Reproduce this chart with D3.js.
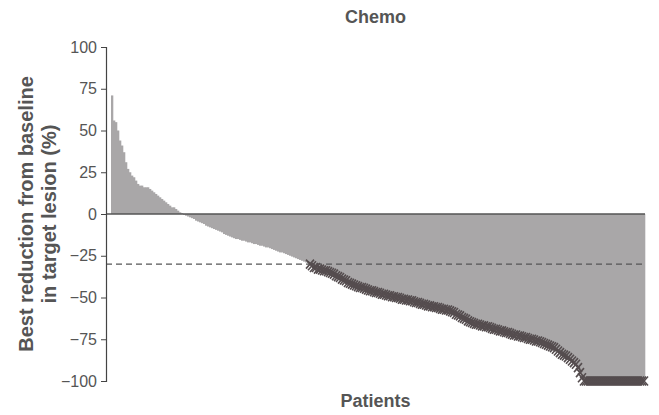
<!DOCTYPE html>
<html>
<head>
<meta charset="utf-8">
<script src="https://cdn.jsdelivr.net/npm/d3@7"></script>
<style>
  body { margin: 0; background: #fff; }
  svg { font-family: "Liberation Sans", Arial, sans-serif; }
</style>
</head>
<body>
<div id="chart"></div>
<script>
// Best % change from baseline per patient, sorted (waterfall)
const values = [
  71, 56, 55, 50, 44, 41, 37, 31, 27, 25, 23, 22, 20, 18, 17, 17, 16, 16, 16, 15,
  14, 13, 12, 11, 10, 9, 8, 7, 6, 5, 4, 4, 3, 2, 1, 0.5,
  -0.5, -1, -1.5, -2, -2.5, -3, -4, -4.5, -5, -5.5, -6, -7, -7.5, -8,
  -8.5, -9, -9.5, -10, -10.5, -11, -12, -12.5, -13, -13.5,
  -14, -14.5, -15, -15, -15.5, -16, -16, -16.5, -17, -17,
  -17.5, -18, -18, -18.5, -19, -19, -19.5, -20, -20, -20.5,
  -21, -21.5, -22, -22.5, -23, -23, -23.5, -24, -24.5, -25,
  -25.5, -26, -26.5, -27, -27.5, -28, -28.5, -29, -29.5, -30,
  -31, -32, -32, -33, -33, -33.5, -34, -34, -34.5, -35,
  -35.5, -36, -37, -37.5, -38, -39, -39.5, -40, -41, -41.5,
  -42, -42.5, -43, -43.5, -44, -44, -44.5, -45, -45.5, -46,
  -46, -46.5, -47, -47, -47.5, -48, -48, -48.5, -49, -49,
  -49.5, -49.5, -50, -50, -50.5, -51, -51, -51.5, -51.5, -52,
  -52, -52.5, -53, -53, -53.5, -54, -54, -54.5, -55, -55,
  -55.5, -55.5, -56, -56, -56.5, -57, -57, -57.5, -57.5, -58,
  -58.5, -59, -60, -60.5, -61, -62, -62.5, -63, -64, -64.5,
  -65, -65.5, -66, -66, -66.5, -67, -67, -67.5, -67.5, -68,
  -68.5, -69, -69, -69.5, -70, -70, -70.5, -71, -71, -71.5,
  -72, -72.5, -72.5, -73, -73, -73.5, -74, -74, -74.5, -75,
  -75, -75.5, -76, -76, -76.5, -77, -77.5, -78, -78.5, -79,
  -79.5, -80, -81, -82, -83, -84, -84.5, -85, -86, -87,
  -88, -89, -90, -92, -95, -98,
  -100, -100, -100, -100, -100, -100, -100, -100, -100, -100,
  -100, -100, -100, -100, -100, -100, -100, -100, -100, -100,
  -100, -100, -100, -100, -100, -100, -100, -100, -100, -100, -100
];
const yTicks = [100, 75, 50, 25, 0, -25, -50, -75, -100];
const responseCutoff = -30;
const title = "Chemo";
const xTitle = "Patients";
const yTitle = ["Best reduction from baseline", "in target lesion (%)"];

const W = 659, H = 415;
const margin = { top: 47, right: 14, bottom: 34, left: 106 };
const width = W - margin.left - margin.right,
  height = H - margin.top - margin.bottom;

const svg = d3.select("#chart").append("svg")
  .attr("width", W).attr("height", H);
const g = svg.append("g")
  .attr("transform", `translate(${margin.left},${margin.top})`);

const x = d3.scaleBand()
  .domain(d3.range(values.length))
  .range([5, width])
  .padding(0);
const y = d3.scaleLinear().domain([-100, 100]).range([height, 0]);

// bars
g.selectAll("rect.bar")
  .data(values)
  .join("rect")
  .attr("class", "bar")
  .attr("x", (d, i) => x(i))
  .attr("width", x.bandwidth() + 0.3)
  .attr("y", d => y(Math.max(0, d)))
  .attr("height", d => Math.abs(y(d) - y(0)))
  .attr("fill", "#a9a7a8");

// zero line
g.append("line")
  .attr("x1", 0).attr("x2", width)
  .attr("y1", y(0)).attr("y2", y(0))
  .attr("stroke", "#555").attr("stroke-width", 1.5);

// -30% threshold
g.append("line")
  .attr("x1", 0).attr("x2", width)
  .attr("y1", y(responseCutoff)).attr("y2", y(responseCutoff))
  .attr("stroke", "#555").attr("stroke-width", 1.3)
  .attr("stroke-dasharray", "6,4");

// cross markers for responders
g.selectAll("path.mark")
  .data(values.map((v, i) => ({ v, i })).filter(d => d.v <= responseCutoff))
  .join("path")
  .attr("class", "mark")
  .attr("transform", d => `translate(${x(d.i) + x.bandwidth() / 2},${y(d.v)})`)
  .attr("d", "M-4,-4.5L4,4.5M-4,4.5L4,-4.5")
  .attr("stroke", "#554d4f").attr("stroke-width", 1.6)
  .attr("fill", "none");

// y axis
const yAxis = g.append("g")
  .call(d3.axisLeft(y).tickValues(yTicks).tickSize(5).tickPadding(4));
yAxis.select(".domain").attr("stroke", "#444").attr("stroke-width", 1.2);
yAxis.selectAll(".tick line").attr("stroke", "#444");
yAxis.selectAll(".tick text")
  .attr("fill", "#555").attr("font-size", 16)
  .attr("font-family", "Liberation Sans, Arial, sans-serif");

// titles
svg.append("text")
  .attr("x", margin.left + width / 2).attr("y", 23)
  .attr("text-anchor", "middle")
  .attr("font-size", 18).attr("font-weight", "bold").attr("fill", "#555")
  .text(title);

svg.append("text")
  .attr("x", margin.left + width / 2).attr("y", 407)
  .attr("text-anchor", "middle")
  .attr("font-size", 18).attr("font-weight", "bold").attr("fill", "#555")
  .text(xTitle);

const yt = svg.append("text")
  .attr("transform", `translate(33,${margin.top + height / 2}) rotate(-90)`)
  .attr("text-anchor", "middle")
  .attr("font-size", 20).attr("font-weight", "bold").attr("fill", "#555");
yTitle.forEach((t, k) => {
  yt.append("tspan").attr("x", 0).attr("dy", k === 0 ? 0 : 23).text(t);
});
</script>
</body>
</html>
